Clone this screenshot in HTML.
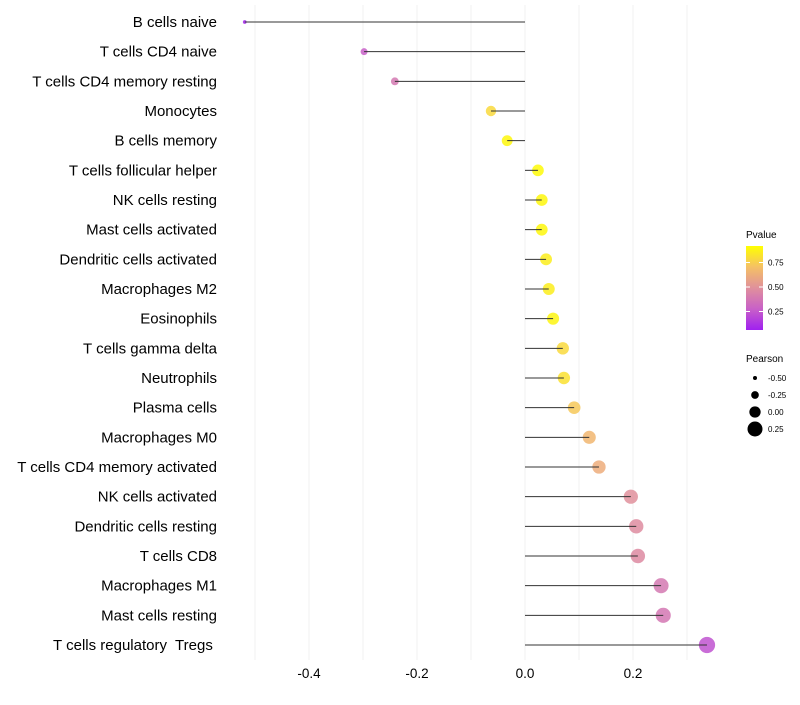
<!DOCTYPE html>
<html><head><meta charset="utf-8"><style>
body{margin:0;background:#fff;font-family:"Liberation Sans",sans-serif}
text{white-space:pre}
</style></head><body>
<svg id="chart" width="800" height="700" xmlns="http://www.w3.org/2000/svg">
<defs><linearGradient id="pg" x1="0" y1="1" x2="0" y2="0">
<stop offset="0" stop-color="#A020F0"/><stop offset="0.25" stop-color="#C860C8"/><stop offset="0.5" stop-color="#E0909C"/><stop offset="0.75" stop-color="#F5C065"/><stop offset="1" stop-color="#FFFF00"/></linearGradient></defs>
<g id="grid"></g>
<g id="marks"></g>
<g id="ylab"></g>
<g id="xlab"></g>
<g>
<text x="746" y="238" font-size="10" fill="#000">Pvalue</text>
<rect x="746" y="246" width="17" height="84" fill="url(#pg)"/>
<g id="cbt"></g>
</g>
<g id="sizeleg">
<text x="746" y="362" font-size="10" fill="#000">Pearson</text>
</g>
</svg>
<script>
const categories=["B cells naive","T cells CD4 naive","T cells CD4 memory resting","Monocytes","B cells memory","T cells follicular helper","NK cells resting","Mast cells activated","Dendritic cells activated","Macrophages M2","Eosinophils","T cells gamma delta","Neutrophils","Plasma cells","Macrophages M0","T cells CD4 memory activated","NK cells activated","Dendritic cells resting","T cells CD8","Macrophages M1","Mast cells resting","T cells regulatory  Tregs "];
const pearson=[-0.519,-0.298,-0.241,-0.063,-0.033,0.024,0.031,0.031,0.039,0.044,0.052,0.070,0.072,0.091,0.119,0.137,0.196,0.206,0.209,0.252,0.256,0.337];
const pvalue=[0.02,0.25,0.38,0.85,0.97,0.98,0.97,0.97,0.93,0.93,0.96,0.85,0.88,0.78,0.7,0.65,0.5,0.48,0.47,0.38,0.37,0.2];
const xTicks=[-0.4,-0.2,0.0,0.2];
const xTickLabels=["-0.4","-0.2","0.0","0.2"];
const cbTicks=[0.25,0.5,0.75];
const sizeLegendVals=[-0.5,-0.25,0,0.25];
const NS="http://www.w3.org/2000/svg";
const X=v=>525+v*540;
const Y=i=>22+i*29.667;
const R=p=>2+(p+0.5)/0.75*5.5;
const stops=[[0,[160,32,240]],[0.25,[200,96,200]],[0.5,[224,144,156]],[0.75,[245,192,101]],[1,[255,255,0]]];
function col(p){for(let k=0;k<stops.length-1;k++){const [a,ca]=stops[k],[b,cb]=stops[k+1];if(p<=b){const t=(p-a)/(b-a);return `rgb(${ca.map((v,i)=>Math.round(v+(cb[i]-v)*t))})`;}}return 'rgb(255,255,0)';}
function mk(t,at,parent){const e=document.createElementNS(NS,t);for(const k in at)e.setAttribute(k,at[k]);document.getElementById(parent).appendChild(e);return e;}
for(let v=-0.5;v<=0.35;v+=0.1){const g=mk('line',{x1:X(v),x2:X(v),y1:5,y2:660,stroke:'#f2f2f2','stroke-width':1},'grid');

}
xTicks.forEach((v,i)=>{const t=mk('text',{x:X(v),y:678,'font-size':13.5,'text-anchor':'middle',fill:'#000'},'xlab');t.textContent=xTickLabels[i];

});
categories.forEach((c,i)=>{
const t=mk('text',{x:217,y:Y(i)+5,'font-size':15,'text-anchor':'end',fill:'#000'},'ylab');t.textContent=c;


const p=mk('circle',{cx:X(pearson[i]),cy:Y(i),r:R(pearson[i]),fill:col(pvalue[i]),'fill-opacity':0.85},'marks');


const l=mk('line',{x1:X(0),x2:X(pearson[i]),y1:Y(i),y2:Y(i),stroke:'#333','stroke-width':1},'marks');


});
cbTicks.forEach(v=>{const y=336-v*98;
mk('line',{x1:746,x2:750,y1:y,y2:y,stroke:'#fff'},'cbt');mk('line',{x1:759,x2:763,y1:y,y2:y,stroke:'#fff'},'cbt');
const t=mk('text',{x:768,y:y+3,'font-size':8,fill:'#000'},'cbt');t.textContent=v.toFixed(2);

});
sizeLegendVals.forEach((v,i)=>{const y=378+i*17;
const c=mk('circle',{cx:755,cy:y,r:R(v),fill:'#000'},'sizeleg');


const t=mk('text',{x:768,y:y+3,'font-size':8,fill:'#000'},'sizeleg');t.textContent=v.toFixed(2);

});
</script>
</body></html>
